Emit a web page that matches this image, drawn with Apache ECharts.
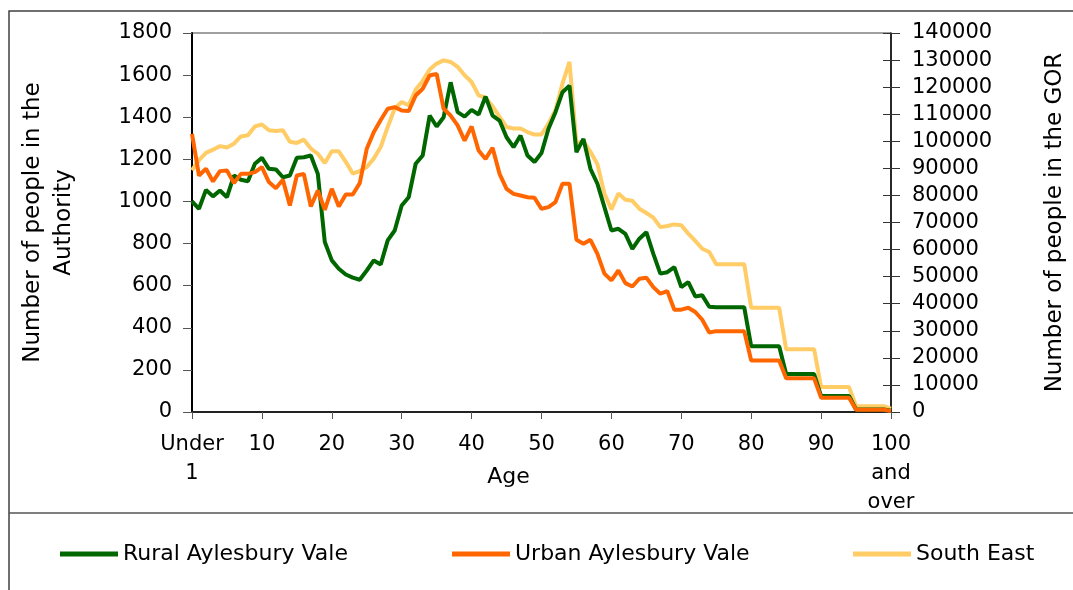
<!DOCTYPE html>
<html>
<head>
<meta charset="utf-8">
<script src="https://cdn.jsdelivr.net/npm/echarts@6/dist/echarts.min.js"></script>
<style>
  html, body { margin: 0; padding: 0; background: #fff; }
  #chart { width: 1073px; height: 590px; }
</style>
</head>
<body>
<div id="chart"></div>
<script>
// ages 0..100, first and last have text labels
var ages = ['Under 1'];
for (var i = 1; i < 100; i++) ages.push(String(i));
ages.push('100 and over');

var rural = [
  1000, 965, 1055, 1024, 1052, 1020, 1123, 1103, 1096, 1179,
  1207, 1155, 1152, 1115, 1123, 1207, 1210, 1218, 1131, 807,
  720, 680, 653, 638, 628, 672, 720, 701, 815, 862,
  981, 1020, 1179, 1218, 1408, 1356, 1400, 1566, 1424, 1403,
  1435, 1413, 1498, 1408, 1384, 1305, 1258, 1313, 1218, 1187,
  1230, 1345, 1424, 1519, 1550, 1234, 1297, 1155, 1084, 973,
  862, 870, 846, 775, 823, 854, 751, 657, 664, 688,
  593, 617, 549, 554, 500, 498, 498, 498, 498, 498,
  312, 312, 312, 312, 312, 180, 180, 180, 180, 180,
  76, 76, 76, 76, 76, 12, 12, 12, 12, 12,
  6
];

var urban = [
  1321, 1123, 1155, 1095, 1144, 1147, 1087, 1131, 1131, 1139,
  1163, 1092, 1063, 1103, 981, 1123, 1131, 976, 1052, 960,
  1060, 976, 1033, 1033, 1087, 1250, 1329, 1387, 1440, 1448,
  1432, 1429, 1503, 1535, 1598, 1606, 1440, 1408, 1361, 1289,
  1356, 1242, 1202, 1255, 1131, 1060, 1036, 1028, 1020, 1017,
  965, 973, 997, 1084, 1084, 818, 799, 818, 751, 657,
  625, 672, 612, 596, 633, 638, 593, 562, 574, 486,
  486, 495, 475, 438, 378, 384, 384, 384, 384, 384,
  245, 245, 245, 245, 245, 160, 160, 160, 160, 160,
  68, 68, 68, 68, 68, 11, 11, 11, 11, 11,
  5
];

var southEast = [
  89300, 93000, 95700, 96900, 98200, 97700, 99100, 101800, 102200, 105500,
  106200, 104100, 103800, 104100, 99800, 99400, 100600, 97300, 95400, 92000,
  96300, 96300, 92400, 88100, 89000, 90500, 93600, 97900, 105300, 112100,
  114500, 113300, 119100, 122300, 126500, 128700, 129900, 129300, 127500, 124400,
  121900, 117000, 116100, 112900, 109000, 105300, 104700, 104700, 103400, 102500,
  102500, 106500, 111500, 121300, 129300, 99100, 100100, 96100, 91500, 80700,
  74800, 80700, 78400, 78000, 75100, 73500, 71800, 68300, 68700, 69300,
  69000, 65900, 63200, 60300, 59100, 54600, 54600, 54600, 54600, 54600,
  38500, 38500, 38500, 38500, 38500, 23200, 23200, 23200, 23200, 23200,
  9200, 9200, 9200, 9200, 9200, 2150, 2150, 2150, 2150, 2150,
  1250
];

var seriesNames = ['Rural Aylesbury Vale', 'Urban Aylesbury Vale', 'South East'];
var colors = ['#006600', '#FF6600', '#FFCC66'];

var FONT = 'DejaVu Sans';
var chart = echarts.init(document.getElementById('chart'));

function every10(idx) { return idx % 10 === 0; }
function plain(v) { return String(v); }

var option = {
  animation: false,
  color: colors,
  grid: {
    left: 192, right: 182, top: 33, bottom: 178,
    outerBoundsMode: 'none',
    show: true, borderColor: '#404040', borderWidth: 1
  },
  graphic: [
    { type: 'rect', shape: { x: 9, y: 11, width: 1080, height: 600 },
      style: { fill: null, stroke: '#404040', lineWidth: 1.5 } },
    { type: 'line', shape: { x1: 9, y1: 513, x2: 1073, y2: 513 },
      style: { stroke: '#555', lineWidth: 1.5 } }
  ],
  legend: [0, 1, 2].map(function (k) {
    return {
      data: [seriesNames[k]],
      left: [55, 447, 848][k], top: 538,
      icon: 'rect', itemWidth: 58, itemHeight: 5,
      textStyle: { fontFamily: FONT, fontSize: 22, color: '#000' }
    };
  }),
  xAxis: {
    type: 'category',
    data: ages,
    boundaryGap: false,
    name: 'Age',
    nameLocation: 'middle',
    nameGap: 54,
    nameMoveOverlap: false,
    nameTextStyle: { fontFamily: FONT, fontSize: 22, color: '#000', padding: [0, 66, 0, 0] },
    axisLine: { lineStyle: { color: '#222', width: 2 } },
    axisTick: { interval: every10, length: 7, lineStyle: { color: '#555' } },
    axisLabel: {
      interval: every10,
      fontFamily: FONT, fontSize: 21, color: '#000',
      lineHeight: 29, margin: 18,
      formatter: function (v) { return v.replace(/ /g, '\n'); }
    },
    splitLine: { show: false }
  },
  yAxis: [
    {
      type: 'value', min: 0, max: 1800, interval: 200,
      position: 'left',
      name: 'Number of people in the\nAuthority',
      nameLocation: 'middle', nameRotate: 90, nameGap: 112,
      nameMoveOverlap: false,
      nameTextStyle: { fontFamily: FONT, fontSize: 23, color: '#000', lineHeight: 31 },
      axisLine: { show: true, lineStyle: { color: '#000', width: 2 } },
      axisTick: { show: true, length: 9, lineStyle: { color: '#555' } },
      axisLabel: { fontFamily: FONT, fontSize: 21, color: '#000', margin: 20, formatter: plain },
      splitLine: { show: false }
    },
    {
      type: 'value', min: 0, max: 140000, interval: 10000,
      position: 'right',
      name: 'Number of people in the GOR',
      nameLocation: 'middle', nameRotate: 90, nameGap: 153,
      nameMoveOverlap: false,
      nameTextStyle: { fontFamily: FONT, fontSize: 23, color: '#000' },
      axisLine: { show: true, lineStyle: { color: '#000', width: 1.5 } },
      axisTick: { show: true, length: 9, lineStyle: { color: '#333' } },
      axisLabel: { fontFamily: FONT, fontSize: 21, color: '#000', margin: 21, formatter: plain },
      splitLine: { show: false }
    },
    {
      // inner half of the crossing ticks on the right axis
      type: 'value', min: 0, max: 140000, interval: 10000,
      position: 'right',
      axisLine: { show: false },
      axisTick: { show: true, inside: true, length: 8, lineStyle: { color: '#333' } },
      axisLabel: { show: false },
      splitLine: { show: false }
    }
  ],
  series: [
    { name: seriesNames[2], type: 'line', yAxisIndex: 1, data: southEast,
      symbol: 'none', lineStyle: { width: 4, color: colors[2] }, itemStyle: { color: colors[2] } },
    { name: seriesNames[0], type: 'line', yAxisIndex: 0, data: rural,
      symbol: 'none', lineStyle: { width: 4, color: colors[0] }, itemStyle: { color: colors[0] } },
    { name: seriesNames[1], type: 'line', yAxisIndex: 0, data: urban,
      symbol: 'none', lineStyle: { width: 4, color: colors[1] }, itemStyle: { color: colors[1] } }
  ]
};

chart.setOption(option);
</script>
</body>
</html>
